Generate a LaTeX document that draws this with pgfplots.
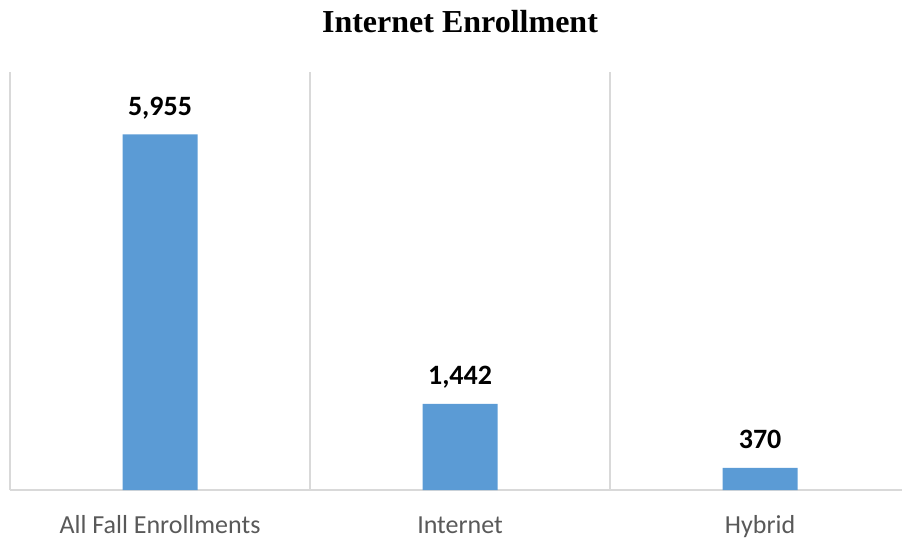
\documentclass[border=0pt]{standalone}
\usepackage{fontspec}
\setmainfont{Carlito}
\newfontfamily\titlefont{Liberation Serif}
\usepackage{pgfplots}
\pgfplotsset{compat=1.18}
\definecolor{barblue}{HTML}{5B9BD5}
\definecolor{gridgray}{HTML}{D9D9D9}
\definecolor{labelgray}{HTML}{595959}
\begin{document}
\begin{tikzpicture}
\path[use as bounding box] (-10pt,-54pt) rectangle (892pt,490pt);
\begin{axis}[
  at={(0pt,0pt)}, anchor=south west,
  scale only axis,
  width=892pt, height=418pt,
  xmin=-0.5, xmax=2.473,
  ymin=0, ymax=7000,
  axis line style={draw=none},
  ytick=\empty,
  xtick={0,1,2},
  xticklabels={All Fall Enrollments, Internet, Hybrid},
  major tick length=0pt,
  xticklabel style={anchor=base, yshift=-43pt, font=\fontsize{26}{30}\selectfont, text=labelgray},
  extra x ticks={-0.5,0.5,1.5},
  extra x tick labels={},
  extra y ticks={0},
  extra y tick labels={},
  extra tick style={grid=major, major grid style={draw=gridgray, line width=1.3pt}},
  ybar, bar width=75pt,
  nodes near coords={\pgfmathprintnumber[assume math mode=true]{\pgfplotspointmeta}},
  nodes near coords style={anchor=base, yshift=19pt, font=\bfseries\fontsize{28}{32}\selectfont, text=black},
  clip=false,
]
\addplot[fill=barblue, draw=none] coordinates {(0,5955) (1,1442) (2,370)};
\end{axis}
\node[anchor=base, font=\titlefont\bfseries\fontsize{32}{36}\selectfont] at (450pt,457pt) {Internet Enrollment};
\end{tikzpicture}
\end{document}
